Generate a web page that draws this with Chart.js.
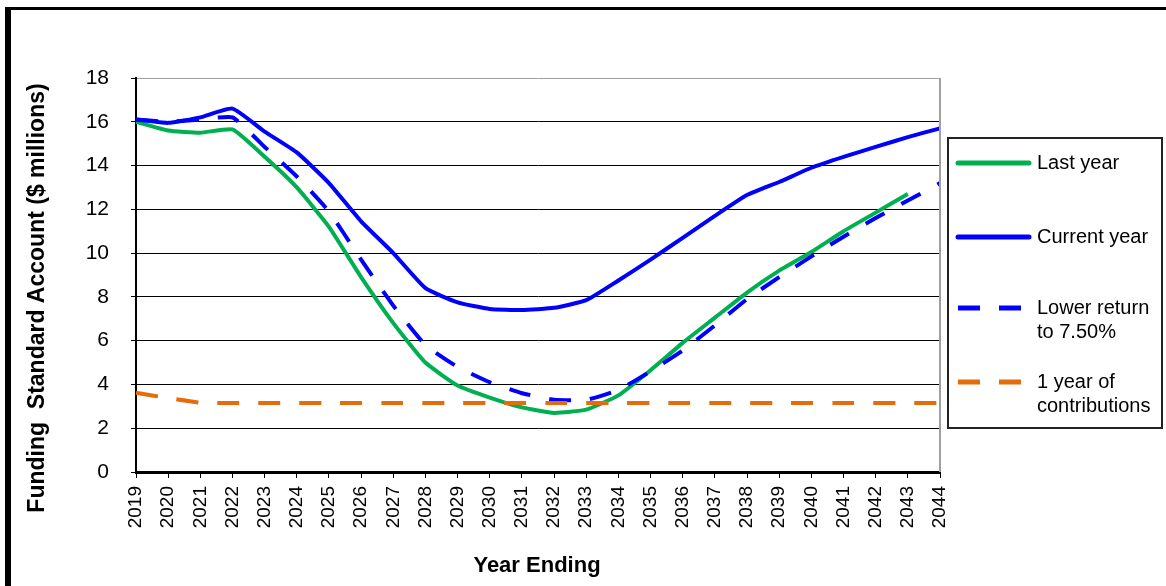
<!DOCTYPE html>
<html>
<head>
<meta charset="utf-8">
<script src="https://cdn.jsdelivr.net/npm/chart.js@4/dist/chart.umd.min.js"></script>
<style>
  html, body { margin: 0; padding: 0; background: #fff; }
  #wrap { position: relative; width: 1166px; height: 586px; }
  #frame { position: absolute; left: 5px; top: 7px; right: 0; bottom: 0;
           border-top: 3px solid #000; border-left: 6px solid #000; pointer-events: none; }
</style>
</head>
<body>
<div id="wrap">
  <canvas id="c" width="1166" height="586"></canvas>
  <div id="frame"></div>
</div>
<script>
// Projection years on the horizontal axis
const years = ['2019','2020','2021','2022','2023','2024','2025','2026','2027','2028','2029','2030','2031',
               '2032','2033','2034','2035','2036','2037','2038','2039','2040','2041','2042','2043','2044'];

// Funding standard account balance, $ millions
const lastYear = [16.0, 15.6, 15.5, 15.65, 14.4, 13.0, 11.2, 8.9, 6.8, 5.0, 3.95, 3.4, 2.95,
                  2.7, 2.85, 3.5, 4.65, 5.9, 7.05, 8.2, 9.2, 10.05, 11.0, 11.85, 12.7, null];
const currentYear = [16.1, 15.95, 16.2, 16.6, 15.55, 14.6, 13.2, 11.45, 10.0, 8.4, 7.75, 7.45, 7.4,
                     7.5, 7.85, 8.75, 9.7, 10.7, 11.7, 12.65, 13.25, 13.9, 14.4, 14.85, 15.3, 15.7];
const lowerReturn = [16.1, 16.0, 16.1, 16.2, 14.85, 13.5, 11.9, 9.7, 7.6, 5.8, 4.8, 4.1, 3.6,
                     3.3, 3.3, 3.75, 4.6, 5.55, 6.7, 7.9, 8.9, 9.85, 10.75, 11.6, 12.4, 13.2];
const contributions = [3.62, 3.38, 3.17, 3.15, 3.15, 3.15, 3.15, 3.15, 3.15, 3.15, 3.15, 3.15, 3.15,
                       3.15, 3.15, 3.15, 3.15, 3.15, 3.15, 3.15, 3.15, 3.15, 3.15, 3.15, 3.15, 3.15];

// Legend entries (one array item per text line)
const legendText = [['Last year'], ['Current year'], ['Lower return', 'to 7.50%'], ['1 year of', 'contributions']];
const yTitle = 'Funding  Standard Account ($ millions)';
const xTitle = 'Year Ending';

const GREEN = '#00B050', BLUE = '#0000FF', ORANGE = '#E46C0A';
const TICK_FONT = "'Liberation Sans Narrow', 'Liberation Sans', Arial, sans-serif";
const TEXT_FONT = "'Liberation Sans', Arial, sans-serif";

function series(label, data, color, dash, order) {
  return {
    label, data, borderColor: color, backgroundColor: color,
    borderWidth: 4, borderDash: dash, pointRadius: 0, tension: 0.15,
    borderJoinStyle: 'round', borderCapStyle: 'butt', fill: false, order
  };
}

// Axis titles, plot frame on the right and the boxed legend
const decorations = {
  id: 'decorations',
  afterDraw(chart) {
    const ctx = chart.ctx;
    const a = chart.chartArea;
    ctx.save();
    // right edge of the plot area
    ctx.strokeStyle = '#a0a0a0';
    ctx.lineWidth = 2;
    ctx.beginPath();
    ctx.moveTo(a.right, a.top);
    ctx.lineTo(a.right, a.bottom);
    ctx.stroke();

    // axis titles
    ctx.fillStyle = '#000';
    ctx.textAlign = 'center';
    ctx.textBaseline = 'middle';
    ctx.font = "bold 23px " + TEXT_FONT;
    ctx.save();
    ctx.translate(38, 298);
    ctx.rotate(-Math.PI / 2);
    ctx.fillText(yTitle, 0, 0);
    ctx.restore();
    ctx.font = "bold 22px " + TEXT_FONT;
    ctx.fillText(xTitle, 537, 566);

    // legend box
    ctx.strokeStyle = '#222';
    ctx.lineWidth = 2;
    ctx.strokeRect(948, 138, 214, 290);
    const rows = [163, 237, 308, 382];
    ctx.font = "20px " + TEXT_FONT;
    ctx.textAlign = 'left';
    chart.data.datasets.forEach((ds, i) => {
      const y = rows[i];
      ctx.strokeStyle = ds.borderColor;
      ctx.lineWidth = 5;
      ctx.lineCap = ds.borderDash.length ? 'butt' : 'round';
      ctx.setLineDash(ds.borderDash);
      ctx.beginPath();
      ctx.moveTo(958, y);
      ctx.lineTo(ds.borderDash.length ? 1023 : 1029, y);
      ctx.stroke();
      ctx.setLineDash([]);
      legendText[i].forEach((t, k) => ctx.fillText(t, 1037, y + k * 24));
    });
    ctx.restore();
  }
};

new Chart(document.getElementById('c'), {
  type: 'line',
  data: {
    labels: years,
    datasets: [
      series('Last year', lastYear, GREEN, [], 4),
      series('Current year', currentYear, BLUE, [], 3),
      series('Lower return to 7.50%', lowerReturn, BLUE, [22, 19], 2),
      series('1 year of contributions', contributions, ORANGE, [22, 19], 1)
    ]
  },
  options: {
    responsive: false,
    animation: false,
    layout: { padding: { top: 78, right: 226, bottom: 0, left: 0 } },
    plugins: { legend: { display: false }, tooltip: { enabled: false } },
    scales: {
      x: {
        type: 'category',
        offset: false,
        border: { color: '#000', width: 3 },
        grid: { drawOnChartArea: false, drawTicks: true, tickLength: 6, color: '#000', lineWidth: 1 },
        ticks: { minRotation: 90, maxRotation: 90, autoSkip: false, padding: 8, color: '#000',
                 font: { family: TICK_FONT, size: 19 } },
        afterFit(s) { s.height = 114; }
      },
      y: {
        min: 0, max: 18,
        border: { color: '#000', width: 2 },
        grid: {
          color: c => (c.tick && c.tick.value === 18 ? '#a0a0a0' : '#000'),
          tickColor: '#000', lineWidth: 1, tickLength: 5
        },
        ticks: { stepSize: 2, padding: 22, color: '#000', font: { family: TICK_FONT, size: 21 } },
        afterFit(s) { s.width = 136; }
      }
    }
  },
  plugins: [decorations]
});
</script>
</body>
</html>
